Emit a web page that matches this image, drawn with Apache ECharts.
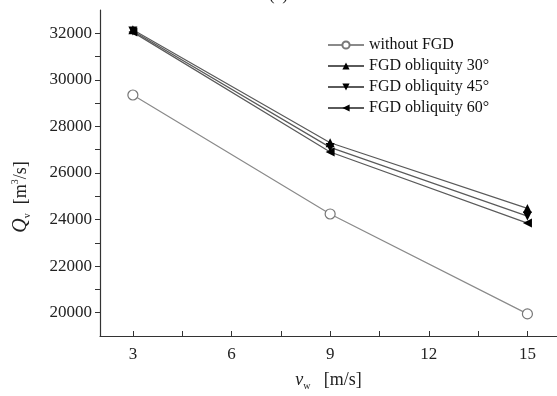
<!DOCTYPE html>
<html>
<head>
<meta charset="utf-8">
<script src="https://cdn.jsdelivr.net/npm/echarts@6/dist/echarts.min.js"></script>
<style>
  html, body { margin: 0; padding: 0; background: #fff; }
  #main { width: 557px; height: 396px; }
</style>
</head>
<body>
<div id="main"></div>
<script>
// wind speed v_w [m/s]
var windSpeed = [3, 9, 15];
// Q_v [m3/s]
var withoutFGD = [29350, 24240, 19950];
var obliq30 = [32150, 27300, 24480];
var obliq45 = [32100, 27100, 24150];
var obliq60 = [32050, 26900, 23850];

var xTicks = [3, 4.5, 6, 7.5, 9, 10.5, 12, 13.5, 15];
var xLabels = [3, 6, 9, 12, 15];
var yTicks = [20000, 21000, 22000, 23000, 24000, 25000, 26000, 27000, 28000, 29000, 30000, 31000, 32000];
var yLabels = [20000, 22000, 24000, 26000, 28000, 30000, 32000];

var serif = '"Liberation Serif", "DejaVu Serif", serif';

function pairs(vals) {
  return windSpeed.map(function (x, i) { return [x, vals[i]]; });
}

function fgdSeries(name, vals, rot) {
  return {
    name: name,
    type: 'line',
    data: pairs(vals),
    symbol: 'triangle',
    symbolSize: 9,
    symbolRotate: rot,
    lineStyle: { color: '#5a5a5a', width: 1.2 },
    itemStyle: { color: '#000' }
  };
}

var myChart = echarts.init(document.getElementById('main'));
myChart.setOption({
  animation: false,
  title: {
    text: '(c)',
    left: 'center',
    top: -18,
    textStyle: { fontFamily: serif, fontSize: 17, fontWeight: 'normal', color: '#222' }
  },
  grid: { left: 100, right: 0, top: 10, bottom: 49 },
  legend: {
    orient: 'vertical',
    left: 322,
    top: 32,
    itemWidth: 36,
    itemHeight: 9,
    itemGap: 5,
    textStyle: { fontFamily: serif, fontSize: 16, color: '#111' },
    data: ['without FGD', 'FGD obliquity 30°', 'FGD obliquity 45°', 'FGD obliquity 60°']
  },
  xAxis: {
    type: 'value',
    min: 2,
    max: 15.9,
    name: '{v|v}{sub|w}   [m/s]',
    nameLocation: 'middle',
    nameGap: 33,
    nameTextStyle: {
      fontFamily: serif, fontSize: 18, color: '#222',
      rich: {
        v: { fontFamily: serif, fontSize: 18, fontStyle: 'italic', color: '#222' },
        sub: { fontFamily: serif, fontSize: 10, color: '#222', verticalAlign: 'bottom', padding: [12, 0, 0, 0] }
      }
    },
    splitLine: { show: false },
    axisLine: { lineStyle: { color: '#333', width: 1.2 } },
    axisTick: { inside: true, length: 5, customValues: xTicks, lineStyle: { color: '#333' } },
    axisLabel: { customValues: xLabels, fontFamily: serif, fontSize: 17, color: '#222', margin: 10 }
  },
  yAxis: {
    type: 'value',
    min: 19000,
    max: 33000,
    name: '{q|Q}{sub|v}  [m{sup|3}/s]',
    nameLocation: 'middle',
    nameRotate: 90,
    nameGap: 68,
    nameTextStyle: {
      fontFamily: serif, fontSize: 18, color: '#222',
      padding: [0, 48, 0, 0],
      rich: {
        q: { fontFamily: serif, fontSize: 20, fontStyle: 'italic', color: '#222' },
        sub: { fontFamily: serif, fontSize: 10, color: '#222', verticalAlign: 'bottom', padding: [12, 0, 0, 0] },
        sup: { fontFamily: serif, fontSize: 10, color: '#222', verticalAlign: 'top', padding: [0, 0, 10, 0] }
      }
    },
    splitLine: { show: false },
    axisLine: { show: true, lineStyle: { color: '#333', width: 1.2 } },
    axisTick: { show: true, inside: false, length: 5, customValues: yTicks, lineStyle: { color: '#333' } },
    axisLabel: {
      customValues: yLabels, fontFamily: serif, fontSize: 17, color: '#222', margin: 8,
      formatter: function (v) { return String(v); }
    }
  },
  series: [
    {
      name: 'without FGD',
      type: 'line',
      data: pairs(withoutFGD),
      symbol: 'circle',
      symbolSize: 10,
      lineStyle: { color: '#8a8a8a', width: 1.2 },
      itemStyle: { color: '#fff', borderColor: '#777', borderWidth: 1.2 }
    },
    fgdSeries('FGD obliquity 30°', obliq30, 0),
    fgdSeries('FGD obliquity 45°', obliq45, 180),
    fgdSeries('FGD obliquity 60°', obliq60, 90)
  ]
});
</script>
</body>
</html>
